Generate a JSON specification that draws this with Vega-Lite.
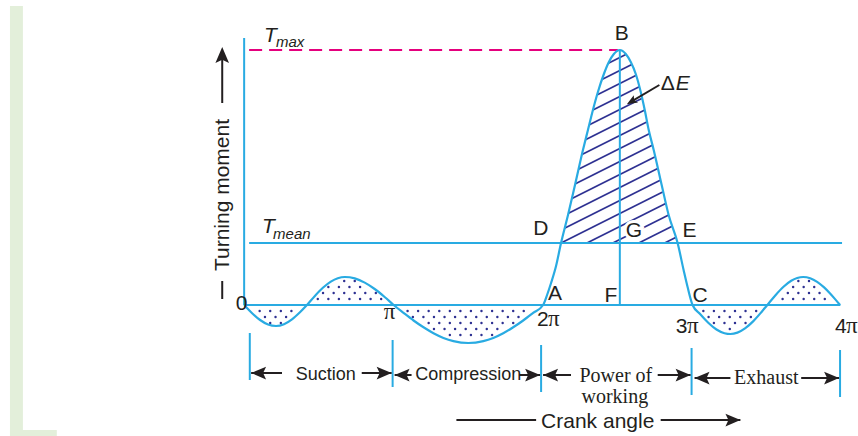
{
  "$schema": "https://vega.github.io/schema/vega-lite/v6.json",
  "width": 858,
  "height": 436,
  "autosize": {"type": "fit", "contains": "padding"},
  "padding": 0,
  "background": "white",
  "config": {"view": {"stroke": null}},
  "datasets": {
    "green": [
      {"x": -282, "x2": -266.4, "y": 299, "y2": -131},
      {"x": -282, "x2": -225.6, "y": -125, "y2": -131}
    ],
    "hatch": [
      {"x": 360, "y": 209, "x2": 470.4, "y2": 255},
      {"x": 360, "y": 196, "x2": 501.6, "y2": 255},
      {"x": 360, "y": 183, "x2": 532.8, "y2": 255},
      {"x": 360, "y": 170, "x2": 540, "y2": 245},
      {"x": 360, "y": 157, "x2": 540, "y2": 232},
      {"x": 360, "y": 144, "x2": 540, "y2": 219},
      {"x": 360, "y": 131, "x2": 540, "y2": 206},
      {"x": 360, "y": 118, "x2": 540, "y2": 193},
      {"x": 360, "y": 105, "x2": 540, "y2": 180},
      {"x": 360, "y": 92, "x2": 540, "y2": 167},
      {"x": 360, "y": 79, "x2": 540, "y2": 154},
      {"x": 360, "y": 66, "x2": 540, "y2": 141},
      {"x": 381.6, "y": 62, "x2": 540, "y2": 128},
      {"x": 412.8, "y": 62, "x2": 540, "y2": 115},
      {"x": 444, "y": 62, "x2": 540, "y2": 102},
      {"x": 475.2, "y": 62, "x2": 540, "y2": 89},
      {"x": 506.4, "y": 62, "x2": 540, "y2": 76}
    ],
    "curve": [
      {"x": 0, "y": 0}, {"x": 9.6, "y": -8.2}, {"x": 19.2, "y": -15}, {"x": 28.8, "y": -19.5}, {"x": 38.4, "y": -21},
      {"x": 48, "y": -19.2}, {"x": 57.6, "y": -14.3}, {"x": 67.2, "y": -7.2}, {"x": 75.6, "y": 0},
      {"x": 85.2, "y": 9.1}, {"x": 94.8, "y": 17.2}, {"x": 104.4, "y": 23.4}, {"x": 112.8, "y": 26.8}, {"x": 121.2, "y": 28},
      {"x": 133.2, "y": 26.6}, {"x": 145.2, "y": 22.4}, {"x": 157.2, "y": 16}, {"x": 169.2, "y": 8}, {"x": 180, "y": 0},
      {"x": 192, "y": -7.9}, {"x": 204, "y": -15.5}, {"x": 216, "y": -22.3}, {"x": 228, "y": -28.2}, {"x": 240, "y": -32.9},
      {"x": 252, "y": -36.1}, {"x": 270, "y": -38}, {"x": 288, "y": -36.1}, {"x": 300, "y": -32.9}, {"x": 312, "y": -28.2},
      {"x": 324, "y": -22.3}, {"x": 336, "y": -15.5}, {"x": 348, "y": -7.9}, {"x": 360, "y": 0},
      {"x": 364.8, "y": 10}, {"x": 369.6, "y": 22}, {"x": 375.6, "y": 39}, {"x": 381.6, "y": 62}, {"x": 390, "y": 90},
      {"x": 398.4, "y": 120}, {"x": 408, "y": 155}, {"x": 414, "y": 175}, {"x": 420, "y": 195}, {"x": 426, "y": 213},
      {"x": 433.2, "y": 231}, {"x": 439.2, "y": 243}, {"x": 445.2, "y": 251}, {"x": 452.4, "y": 255}, {"x": 459.6, "y": 251},
      {"x": 465.6, "y": 243}, {"x": 471.6, "y": 231}, {"x": 477.6, "y": 213}, {"x": 482.4, "y": 195}, {"x": 487.2, "y": 175},
      {"x": 493.2, "y": 155}, {"x": 502.8, "y": 120}, {"x": 511.2, "y": 90}, {"x": 522, "y": 62}, {"x": 529.2, "y": 35},
      {"x": 534, "y": 18}, {"x": 540, "y": 0},
      {"x": 549.6, "y": -9.5}, {"x": 559.2, "y": -18}, {"x": 568.8, "y": -24.5}, {"x": 578.4, "y": -28.2}, {"x": 585.6, "y": -29},
      {"x": 594, "y": -27.6}, {"x": 603.6, "y": -23.1}, {"x": 613.2, "y": -16.1}, {"x": 621.6, "y": -8.4}, {"x": 630, "y": 0},
      {"x": 639.6, "y": 9.6}, {"x": 649.2, "y": 18}, {"x": 658.8, "y": 24.2}, {"x": 666, "y": 27}, {"x": 673.2, "y": 28},
      {"x": 681.6, "y": 26.8}, {"x": 690, "y": 23.2}, {"x": 698.4, "y": 17.6}, {"x": 705.6, "y": 11.5}, {"x": 711.6, "y": 5.9},
      {"x": 717.6, "y": 0}
    ],
    "dots": [
      {"x": 18.7, "y": -6}, {"x": 31.4, "y": -6}, {"x": 44.2, "y": -6}, {"x": 56.9, "y": -6},
      {"x": 25.1, "y": -12}, {"x": 37.8, "y": -12}, {"x": 50.5, "y": -12},
      {"x": 31.4, "y": -18}, {"x": 44.2, "y": -18},
      {"x": 88.7, "y": 6}, {"x": 101.4, "y": 6}, {"x": 114.1, "y": 6}, {"x": 126.8, "y": 6}, {"x": 139.6, "y": 6}, {"x": 152.3, "y": 6}, {"x": 165, "y": 6},
      {"x": 95, "y": 12}, {"x": 107.8, "y": 12}, {"x": 120.5, "y": 12}, {"x": 133.2, "y": 12}, {"x": 145.9, "y": 12}, {"x": 158.6, "y": 12},
      {"x": 101.4, "y": 18}, {"x": 114.1, "y": 18}, {"x": 126.8, "y": 18}, {"x": 139.6, "y": 18},
      {"x": 120.5, "y": 24}, {"x": 133.2, "y": 24},
      {"x": 196.8, "y": -6}, {"x": 209.5, "y": -6}, {"x": 222.2, "y": -6}, {"x": 235, "y": -6}, {"x": 247.7, "y": -6}, {"x": 260.4, "y": -6},
      {"x": 273.1, "y": -6}, {"x": 285.8, "y": -6}, {"x": 298.6, "y": -6}, {"x": 311.3, "y": -6}, {"x": 324, "y": -6}, {"x": 336.7, "y": -6},
      {"x": 203.2, "y": -12}, {"x": 215.9, "y": -12}, {"x": 228.6, "y": -12}, {"x": 241.3, "y": -12}, {"x": 254, "y": -12}, {"x": 266.8, "y": -12},
      {"x": 279.5, "y": -12}, {"x": 292.2, "y": -12}, {"x": 304.9, "y": -12}, {"x": 317.6, "y": -12}, {"x": 330.4, "y": -12},
      {"x": 222.2, "y": -18}, {"x": 235, "y": -18}, {"x": 247.7, "y": -18}, {"x": 260.4, "y": -18}, {"x": 273.1, "y": -18},
      {"x": 285.8, "y": -18}, {"x": 298.6, "y": -18}, {"x": 311.3, "y": -18}, {"x": 324, "y": -18},
      {"x": 228.6, "y": -24}, {"x": 241.3, "y": -24}, {"x": 254, "y": -24}, {"x": 266.8, "y": -24}, {"x": 279.5, "y": -24}, {"x": 292.2, "y": -24}, {"x": 304.9, "y": -24},
      {"x": 247.7, "y": -30}, {"x": 260.4, "y": -30}, {"x": 273.1, "y": -30}, {"x": 285.8, "y": -30}, {"x": 298.6, "y": -30},
      {"x": 553, "y": -6}, {"x": 565.7, "y": -6}, {"x": 578.4, "y": -6}, {"x": 591.1, "y": -6}, {"x": 603.8, "y": -6}, {"x": 616.6, "y": -6},
      {"x": 559.3, "y": -12}, {"x": 572, "y": -12}, {"x": 584.8, "y": -12}, {"x": 597.5, "y": -12}, {"x": 610.2, "y": -12},
      {"x": 565.7, "y": -18}, {"x": 578.4, "y": -18}, {"x": 591.1, "y": -18}, {"x": 603.8, "y": -18},
      {"x": 584.8, "y": -24},
      {"x": 648.4, "y": 6}, {"x": 661.1, "y": 6}, {"x": 673.8, "y": 6}, {"x": 686.5, "y": 6}, {"x": 699.2, "y": 6},
      {"x": 654.7, "y": 12}, {"x": 667.4, "y": 12}, {"x": 680.2, "y": 12}, {"x": 692.9, "y": 12},
      {"x": 661.1, "y": 18}, {"x": 673.8, "y": 18}, {"x": 686.5, "y": 18},
      {"x": 667.4, "y": 24}, {"x": 680.2, "y": 24}
    ],
    "cyan": [
      {"x": 0, "x2": 0, "y": 0, "y2": 267},
      {"x": 0, "x2": 718, "y": 0, "y2": 0},
      {"x": 6, "x2": 720, "y": 62, "y2": 62},
      {"x": 452.4, "x2": 452.4, "y": 0, "y2": 255},
      {"x": 6.8, "x2": 6.8, "y": -28, "y2": -75},
      {"x": 178.8, "x2": 178.8, "y": -35, "y2": -82},
      {"x": 357.6, "x2": 357.6, "y": -40, "y2": -87},
      {"x": 538.8, "x2": 538.8, "y": -43, "y2": -90},
      {"x": 717.6, "x2": 717.6, "y": -45, "y2": -92}
    ],
    "tmax": [{"x": 6, "x2": 450, "y": 255, "y2": 255}],
    "black": [
      {"x": 8.4, "x2": 45.6, "y": -68, "y2": -68},
      {"x": 141.6, "x2": 177.6, "y": -68, "y2": -68},
      {"x": 181.2, "x2": 201.6, "y": -70, "y2": -70},
      {"x": 331.2, "x2": 356.4, "y": -70, "y2": -70},
      {"x": 360, "x2": 393.6, "y": -70, "y2": -70},
      {"x": 498, "x2": 537.6, "y": -70, "y2": -70},
      {"x": 542.4, "x2": 585.6, "y": -73, "y2": -73},
      {"x": 670.8, "x2": 716.4, "y": -73, "y2": -73},
      {"x": 255.6, "x2": 351.6, "y": -115, "y2": -115},
      {"x": 501.6, "x2": 597.6, "y": -115, "y2": -115},
      {"x": -26.4, "x2": -26.4, "y": 202, "y2": 250},
      {"x": -26.4, "x2": -26.4, "y": 6, "y2": 24},
      {"x": 500, "x2": 465.6, "y": 220, "y2": 203.2}
    ],
    "headL": [
      {"x": 17.4, "y": -68}, {"x": 190.2, "y": -70}, {"x": 369, "y": -70}, {"x": 551.4, "y": -73}
    ],
    "headR": [
      {"x": 168.6, "y": -68}, {"x": 347.4, "y": -70}, {"x": 528.6, "y": -70}, {"x": 707.4, "y": -73}, {"x": 588.6, "y": -115}
    ],
    "headU": [{"x": -26.4, "y": 250}],
    "headD": [{"x": 466.3, "y": 203.5}],
    "lab": [
      {"x": 366, "y": 5, "t": "A"},
      {"x": 446.4, "y": 265, "t": "B"},
      {"x": 540, "y": 3, "t": "C"},
      {"x": 348, "y": 70, "t": "D"},
      {"x": 528, "y": 68, "t": "E"},
      {"x": 434, "y": 3, "t": "F"},
      {"x": 459.6, "y": 68, "t": "G"},
      {"x": -10.2, "y": -5, "t": "0"},
      {"x": 352.8, "y": -21, "t": "2"},
      {"x": 519.6, "y": -28, "t": "3"},
      {"x": 711.6, "y": -28, "t": "4"},
      {"x": 501.6, "y": 215, "t": "Δ"},
      {"x": 357.6, "y": -123, "t": "Crank angle"}
    ],
    "pi": [
      {"x": 168, "y": -14, "t": "π"},
      {"x": 366, "y": -21, "t": "π"},
      {"x": 533.4, "y": -28, "t": "π"},
      {"x": 724.8, "y": -28, "t": "π"}
    ],
    "ital": [
      {"x": 24, "y": 263, "t": "T"},
      {"x": 21.6, "y": 72, "t": "T"},
      {"x": 519.6, "y": 215, "t": "E"}
    ],
    "sub": [
      {"x": 38.4, "y": 258, "t": "max"},
      {"x": 34.8, "y": 66, "t": "mean"}
    ],
    "stroke": [
      {"x": 98.4, "y": -75, "t": "Suction"},
      {"x": 270, "y": -75, "t": "Compression"}
    ],
    "serif": [
      {"x": 447.6, "y": -77, "t": "Power of"},
      {"x": 446.4, "y": -98, "t": "working"},
      {"x": 628.8, "y": -79, "t": "Exhaust"}
    ],
    "vert": [{"x": -18, "y": 110, "t": "Turning moment"}]
  },
  "encoding": {
    "x": {"field": "x", "type": "quantitative", "scale": {"domain": [-294, 735.6], "nice": false, "zero": false}, "axis": null},
    "y": {"field": "y", "type": "quantitative", "scale": {"domain": [-131, 305], "nice": false, "zero": false}, "axis": null}
  },
  "layer": [
    {
      "data": {"name": "green"},
      "mark": {"type": "rect", "color": "#e3efda"},
      "encoding": {"x2": {"field": "x2"}, "y2": {"field": "y2"}}
    },
    {
      "data": {"name": "hatch"},
      "mark": {"type": "rule", "color": "#2e3192", "strokeWidth": 1.7},
      "encoding": {"x2": {"field": "x2"}, "y2": {"field": "y2"}}
    },
    {
      "data": {"name": "curve"},
      "transform": [{"filter": "datum.x >= 348 && datum.x <= 550"}],
      "mark": {"type": "area", "color": "white", "interpolate": "monotone", "opacity": 1},
      "encoding": {"y2": {"datum": 300}}
    },
    {
      "data": {"name": "dots"},
      "mark": {"type": "point", "shape": "circle", "filled": true, "color": "#2e3192", "size": 6, "opacity": 1}
    },
    {
      "data": {"name": "cyan"},
      "mark": {"type": "rule", "color": "#29abe2", "strokeWidth": 2},
      "encoding": {"x2": {"field": "x2"}, "y2": {"field": "y2"}}
    },
    {
      "data": {"name": "tmax"},
      "mark": {"type": "rule", "color": "#e5007d", "strokeWidth": 1.8, "strokeDash": [13, 7]},
      "encoding": {"x2": {"field": "x2"}, "y2": {"field": "y2"}}
    },
    {
      "data": {"name": "curve"},
      "mark": {"type": "line", "color": "#29abe2", "strokeWidth": 2.2, "interpolate": "monotone"}
    },
    {
      "data": {"name": "black"},
      "mark": {"type": "rule", "color": "#231f20", "strokeWidth": 2},
      "encoding": {"x2": {"field": "x2"}, "y2": {"field": "y2"}}
    },
    {
      "data": {"name": "headL"},
      "mark": {"type": "point", "shape": "M-1,0L1,-0.85L0.6,0L1,0.85Z", "filled": true, "color": "#231f20", "size": 225, "opacity": 1}
    },
    {
      "data": {"name": "headR"},
      "mark": {"type": "point", "shape": "M1,0L-1,-0.85L-0.6,0L-1,0.85Z", "filled": true, "color": "#231f20", "size": 225, "opacity": 1}
    },
    {
      "data": {"name": "headU"},
      "mark": {"type": "point", "shape": "M0,-1L-0.85,1L0,0.6L0.85,1Z", "filled": true, "color": "#231f20", "size": 256, "opacity": 1}
    },
    {
      "data": {"name": "headD"},
      "mark": {"type": "point", "shape": "M1,0L-1,-0.8L-0.6,0L-1,0.8Z", "filled": true, "color": "#231f20", "size": 110, "opacity": 1, "angle": 149.6}
    },
    {
      "data": {"name": "lab"},
      "transform": [{"filter": "datum.t == 'G'"}],
      "mark": {"type": "text", "align": "left", "baseline": "alphabetic", "font": "Liberation Sans", "fontSize": 21, "color": "white", "stroke": "white", "strokeWidth": 6},
      "encoding": {"text": {"field": "t"}}
    },
    {
      "data": {"name": "lab"},
      "mark": {"type": "text", "align": "left", "baseline": "alphabetic", "font": "Liberation Sans", "fontSize": 21, "color": "#231f20"},
      "encoding": {"text": {"field": "t"}}
    },
    {
      "data": {"name": "pi"},
      "mark": {"type": "text", "align": "left", "baseline": "alphabetic", "font": "Liberation Serif", "fontSize": 23, "color": "#231f20"},
      "encoding": {"text": {"field": "t"}}
    },
    {
      "data": {"name": "ital"},
      "mark": {"type": "text", "align": "left", "baseline": "alphabetic", "font": "Liberation Sans", "fontStyle": "italic", "fontSize": 21, "color": "#231f20"},
      "encoding": {"text": {"field": "t"}}
    },
    {
      "data": {"name": "sub"},
      "mark": {"type": "text", "align": "left", "baseline": "alphabetic", "font": "Liberation Sans", "fontStyle": "italic", "fontSize": 15, "color": "#231f20"},
      "encoding": {"text": {"field": "t"}}
    },
    {
      "data": {"name": "stroke"},
      "mark": {"type": "text", "align": "center", "baseline": "alphabetic", "font": "Liberation Sans", "fontSize": 18, "color": "#231f20"},
      "encoding": {"text": {"field": "t"}}
    },
    {
      "data": {"name": "serif"},
      "mark": {"type": "text", "align": "center", "baseline": "alphabetic", "font": "Liberation Serif", "fontSize": 20, "color": "#231f20"},
      "encoding": {"text": {"field": "t"}}
    },
    {
      "data": {"name": "vert"},
      "mark": {"type": "text", "align": "center", "baseline": "alphabetic", "angle": 270, "font": "Liberation Sans", "fontSize": 21, "color": "#231f20"},
      "encoding": {"text": {"field": "t"}}
    }
  ]
}
